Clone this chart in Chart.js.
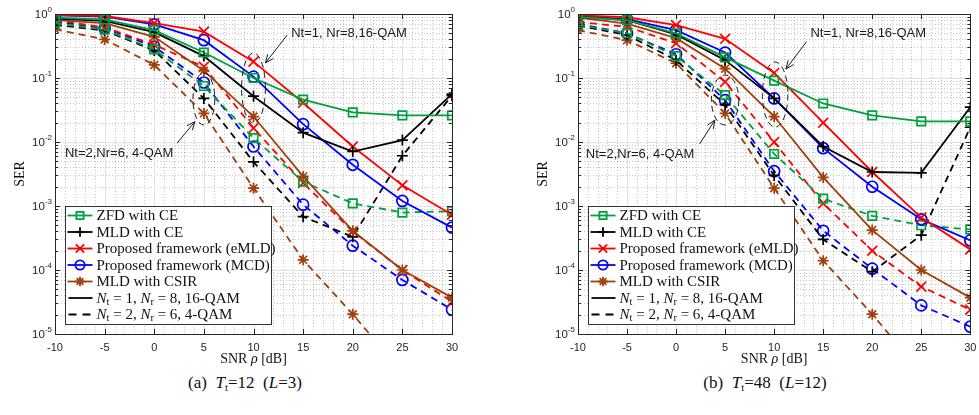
<!DOCTYPE html>
<html>
<head>
<meta charset="utf-8">
<script src="https://cdn.jsdelivr.net/npm/chart.js@4/dist/chart.umd.min.js"></script>
<style>
  body { margin: 0; background: #fff; width: 979px; height: 415px; overflow: hidden; position: relative; }
  canvas { position: absolute; top: 0; }
  #chartA { left: 0; }
  #chartB { left: 490px; }
  .cap { position: absolute; top: 373px; transform: translateX(-50%); white-space: nowrap;
         font-family: "Liberation Serif", serif; font-size: 17px; color: #111; }
  .cap sub { font-size: 11px; vertical-align: -3px; }
</style>
</head>
<body>
<canvas id="chartA" width="490" height="370"></canvas>
<canvas id="chartB" width="489" height="370"></canvas>
<div class="cap" style="left:245px">(a) &nbsp;<i>T</i><sub>t</sub>=12 &nbsp;(<i>L</i>=3)</div>
<div class="cap" style="left:765px">(b) &nbsp;<i>T</i><sub>t</sub>=48 &nbsp;(<i>L</i>=12)</div>
<script>
// SNR points and axis ticks
const snr = [-10, -5, 0, 5, 10, 15, 20, 25, 30];
const xTicks = [-10, -5, 0, 5, 10, 15, 20, 25, 30];
const yExps = [0, -1, -2, -3, -4, -5];
const methodNames = ['ZFD with CE', 'MLD with CE', 'Proposed framework (eMLD)', 'Proposed framework (MCD)', 'MLD with CSIR'];

// (a) Tt = 12, Nt=1 Nr=8 16-QAM
const zfd16A  = [0.88, 0.82, 0.56, 0.25, 0.10, 0.046, 0.029, 0.026, 0.026];
const mld16A  = [0.85, 0.78, 0.52, 0.22, 0.052, 0.014, 0.0071, 0.0107, 0.056];
const emld16A = [0.97, 0.93, 0.72, 0.53, 0.18, 0.041, 0.0085, 0.0021, 0.00073];
const mcd16A  = [0.95, 0.91, 0.69, 0.39, 0.105, 0.019, 0.0044, 0.0012, 0.00046];
const csir16A = [0.80, 0.72, 0.44, 0.13, 0.025, 0.0029, 0.00041, 0.0001, 0.000037];
// (a) Nt=2 Nr=6 4-QAM
const zfd4A  = [0.72, 0.57, 0.28, 0.075, 0.0115, 0.0024, 0.0011, 0.00079, 0.00083];
const mld4A  = [0.68, 0.55, 0.27, 0.048, 0.0049, 0.00068, 0.00033, 0.0061, 0.053];
const emld4A = [0.80, 0.62, 0.33, 0.15, 0.0165, 0.0023, 0.0004, 0.0001, 0.000032];
const mcd4A  = [0.76, 0.60, 0.31, 0.085, 0.0085, 0.00105, 0.00024, 0.00007, 0.000024];
const csir4A = [0.58, 0.40, 0.16, 0.028, 0.0019, 0.000144, 0.0000204, 0.0000025, 0.0000003];

// (b) Tt = 48
const zfd16B  = [0.90, 0.80, 0.50, 0.21, 0.091, 0.040, 0.026, 0.021, 0.021];
const mld16B  = [0.90, 0.80, 0.48, 0.19, 0.048, 0.0085, 0.0034, 0.0033, 0.035];
const emld16B = [0.95, 0.89, 0.67, 0.41, 0.12, 0.020, 0.0034, 0.00066, 0.00021];
const mcd16B  = [0.93, 0.83, 0.56, 0.25, 0.048, 0.008, 0.002, 0.00062, 0.00029];
const csir16B = [0.88, 0.71, 0.42, 0.14, 0.025, 0.0028, 0.00042, 0.0001, 0.000037];
const zfd4B  = [0.68, 0.50, 0.22, 0.054, 0.0065, 0.0013, 0.0007, 0.0005, 0.00043];
const mld4B  = [0.66, 0.47, 0.19, 0.038, 0.003, 0.0003, 0.000094, 0.00035, 0.017];
const emld4B = [0.75, 0.63, 0.35, 0.087, 0.010, 0.0011, 0.0002, 0.000055, 0.000024];
const mcd4B  = [0.70, 0.50, 0.235, 0.045, 0.0035, 0.00041, 0.000105, 0.000028, 0.000013];
const csir4B = [0.56, 0.39, 0.17, 0.028, 0.0019, 0.00014, 0.0000204, 0.0000025, 0.0000003];

// look of each method
const looks = [
  { color: '#00a03c', point: 'rect', r: 6 },
  { color: '#000000', point: 'cross', r: 5.5 },
  { color: '#ff0000', point: 'crossRot', r: 7 },
  { color: '#0000ff', point: 'circle', r: 5.5 },
  { color: '#a0400c', point: 'star', r: 5.5 }
];
const dash = [7, 5];

// annotation placement in data units
const notesA = {
  ellipses: [{ x: 10, dx: 1.2, top: 0.246, bottom: 0.0198 }, { x: 5, dx: 1.1, top: 0.12, bottom: 0.0184 }],
  labels: [{ text: 'Nt=1, Nr=8,16-QAM', x: 13.8, y: 0.505 }, { text: 'Nt=2,Nr=6, 4-QAM', x: -9.0, y: 0.0067 }],
  arrows: [{ x1: 13.4, y1: 0.47, x2: 11.2, y2: 0.172 }, { x1: 2.3, y1: 0.0096, x2: 4.1, y2: 0.0208 }]
};
const notesB = {
  ellipses: [{ x: 10.1, dx: 1.3, top: 0.178, bottom: 0.0171 }, { x: 5, dx: 1.4, top: 0.111, bottom: 0.0184 }],
  labels: [{ text: 'Nt=1, Nr=8,16-QAM', x: 13.7, y: 0.505 }, { text: 'Nt=2,Nr=6, 4-QAM', x: -9.2, y: 0.0065 }],
  arrows: [{ x1: 13.3, y1: 0.369, x2: 11.2, y2: 0.138 }, { x1: 2.4, y1: 0.0093, x2: 3.95, y2: 0.022 }]
};

const SERIF = '"Liberation Serif", serif';
const SANS = '"Liberation Sans", Arial, sans-serif';

function marker(ctx, kind, x, y, r) {
  const d = r * Math.SQRT1_2;
  ctx.beginPath();
  if (kind === 'rect') ctx.rect(x - d, y - d, 2 * d, 2 * d);
  else if (kind === 'circle') ctx.arc(x, y, r, 0, Math.PI * 2);
  else {
    if (kind === 'cross' || kind === 'star') {
      ctx.moveTo(x - r, y); ctx.lineTo(x + r, y);
      ctx.moveTo(x, y - r); ctx.lineTo(x, y + r);
    }
    if (kind === 'crossRot' || kind === 'star') {
      ctx.moveTo(x - d, y - d); ctx.lineTo(x + d, y + d);
      ctx.moveTo(x - d, y + d); ctx.lineTo(x + d, y - d);
    }
  }
  ctx.stroke();
}

// draw text made of pieces with different fonts
function runs(ctx, parts, x, y, align) {
  let w = 0;
  parts.forEach(p => { ctx.font = p.font; p.w = ctx.measureText(p.t).width; w += p.w; });
  let cx = align === 'center' ? x - w / 2 : align === 'right' ? x - w : x;
  ctx.textAlign = 'left';
  parts.forEach(p => { ctx.font = p.font; ctx.fillText(p.t, cx, y + (p.dy || 0)); cx += p.w; });
}

function drawGrid(chart) {
  const { ctx, chartArea: a, scales: { x, y } } = chart;
  ctx.save();
  ctx.lineWidth = 1;
  // minor dotted grid
  ctx.strokeStyle = 'rgba(0,0,0,0.22)';
  ctx.setLineDash([1, 2]);
  ctx.beginPath();
  for (let v = xTicks[0]; v <= xTicks[xTicks.length - 1]; v++) {
    if (xTicks.includes(v)) continue;
    const px = Math.round(x.getPixelForValue(v)) + 0.5;
    ctx.moveTo(px, a.top); ctx.lineTo(px, a.bottom);
  }
  for (let e = -5; e < 0; e++) {
    for (let m = 2; m <= 9; m++) {
      const py = Math.round(y.getPixelForValue(m * Math.pow(10, e))) + 0.5;
      ctx.moveTo(a.left, py); ctx.lineTo(a.right, py);
    }
  }
  ctx.stroke();
  // major grid
  ctx.setLineDash([]);
  ctx.strokeStyle = '#e2e2e2';
  ctx.beginPath();
  xTicks.forEach(v => {
    const px = Math.round(x.getPixelForValue(v)) + 0.5;
    ctx.moveTo(px, a.top); ctx.lineTo(px, a.bottom);
  });
  yExps.forEach(e => {
    const py = Math.round(y.getPixelForValue(Math.pow(10, e))) + 0.5;
    ctx.moveTo(a.left, py); ctx.lineTo(a.right, py);
  });
  ctx.stroke();
  ctx.restore();
}

function drawFrame(chart) {
  const { ctx, chartArea: a, scales: { x, y } } = chart;
  ctx.save();
  ctx.strokeStyle = '#262626';
  ctx.fillStyle = '#262626';
  ctx.lineWidth = 1;
  ctx.beginPath();
  // ticks
  xTicks.forEach(v => {
    const px = Math.round(x.getPixelForValue(v)) + 0.5;
    ctx.moveTo(px, a.bottom); ctx.lineTo(px, a.bottom - 5);
    ctx.moveTo(px, a.top); ctx.lineTo(px, a.top + 5);
  });
  yExps.forEach(e => {
    const py = Math.round(y.getPixelForValue(Math.pow(10, e))) + 0.5;
    ctx.moveTo(a.left, py); ctx.lineTo(a.left + 5, py);
    ctx.moveTo(a.right, py); ctx.lineTo(a.right - 5, py);
    if (e < 0) {
      for (let m = 2; m <= 9; m++) {
        const q = Math.round(y.getPixelForValue(m * Math.pow(10, e))) + 0.5;
        ctx.moveTo(a.left, q); ctx.lineTo(a.left + 3, q);
        ctx.moveTo(a.right, q); ctx.lineTo(a.right - 3, q);
      }
    }
  });
  ctx.stroke();
  ctx.strokeRect(Math.round(a.left) + 0.5, Math.round(a.top) + 0.5, Math.round(a.right - a.left), Math.round(a.bottom - a.top));

  // tick labels
  ctx.textBaseline = 'middle';
  ctx.textAlign = 'center';
  ctx.font = '11px ' + SANS;
  xTicks.forEach(v => ctx.fillText(String(v), x.getPixelForValue(v), a.bottom + 14));
  yExps.forEach(e => {
    runs(ctx, [{ t: '10', font: '11.5px ' + SANS }, { t: String(e), font: '8px ' + SANS, dy: -5 }],
      a.left - 3, y.getPixelForValue(Math.pow(10, e)) + 1, 'right');
  });

  // axis titles
  ctx.fillStyle = '#111';
  runs(ctx, [{ t: 'SNR ', font: '14px ' + SERIF }, { t: 'ρ', font: 'italic 14px ' + SERIF }, { t: ' [dB]', font: '14px ' + SERIF }],
    (a.left + a.right) / 2, a.bottom + 25, 'center');
  ctx.save();
  ctx.translate(a.left - 35, (a.top + a.bottom) / 2);
  ctx.rotate(-Math.PI / 2);
  ctx.textAlign = 'center';
  ctx.font = '14px ' + SERIF;
  ctx.fillText('SER', 0, 0);
  ctx.restore();
  ctx.restore();
}

function drawNotes(chart, notes) {
  const { ctx, scales: { x, y } } = chart;
  ctx.save();
  ctx.strokeStyle = '#1a1a1a';
  ctx.fillStyle = '#1a1a1a';
  ctx.lineWidth = 1;
  notes.ellipses.forEach(el => {
    const cx = x.getPixelForValue(el.x);
    const rx = x.getPixelForValue(el.x + el.dx) - cx;
    const t = y.getPixelForValue(el.top), b = y.getPixelForValue(el.bottom);
    ctx.setLineDash([6, 4]);
    ctx.beginPath();
    ctx.ellipse(cx, (t + b) / 2, rx, (b - t) / 2, 0, 0, Math.PI * 2);
    ctx.stroke();
  });
  ctx.setLineDash([]);
  notes.arrows.forEach(ar => {
    const x1 = x.getPixelForValue(ar.x1), y1 = y.getPixelForValue(ar.y1);
    const x2 = x.getPixelForValue(ar.x2), y2 = y.getPixelForValue(ar.y2);
    const ang = Math.atan2(y2 - y1, x2 - x1);
    ctx.beginPath();
    ctx.moveTo(x1, y1); ctx.lineTo(x2, y2);
    ctx.moveTo(x2 - 9 * Math.cos(ang - 0.4), y2 - 9 * Math.sin(ang - 0.4));
    ctx.lineTo(x2, y2);
    ctx.lineTo(x2 - 9 * Math.cos(ang + 0.4), y2 - 9 * Math.sin(ang + 0.4));
    ctx.stroke();
  });
  ctx.font = '13px ' + SANS;
  ctx.textAlign = 'left';
  ctx.textBaseline = 'middle';
  notes.labels.forEach(lb => ctx.fillText(lb.text, x.getPixelForValue(lb.x), y.getPixelForValue(lb.y)));
  ctx.restore();
}

function drawLegend(chart) {
  const { ctx, chartArea: a } = chart;
  const bx = Math.round(a.left) + 10.5, by = 206.5, bw = 206, bh = 118;
  const rowH = 16.5;
  ctx.save();
  ctx.fillStyle = '#fff';
  ctx.fillRect(bx, by, bw, bh);
  ctx.strokeStyle = '#333';
  ctx.lineWidth = 1;
  ctx.strokeRect(bx, by, bw, bh);
  ctx.textBaseline = 'middle';
  const rowY = i => by + 9 + i * rowH;
  methodNames.forEach((name, i) => {
    const lk = looks[i];
    const yy = rowY(i);
    ctx.strokeStyle = lk.color;
    ctx.lineWidth = 1.8;
    ctx.beginPath(); ctx.moveTo(bx + 2, yy); ctx.lineTo(bx + 27, yy); ctx.stroke();
    marker(ctx, lk.point, bx + 14.5, yy, lk.r * 0.85);
    ctx.fillStyle = '#111';
    ctx.font = '15px ' + SERIF;
    ctx.textAlign = 'left';
    ctx.fillText(name, bx + 31, yy + 1);
  });
  const cfg = [
    { dash: [], nt: '1', nr: '8', mod: '16-QAM' },
    { dash: [8, 6], nt: '2', nr: '6', mod: '4-QAM' }
  ];
  cfg.forEach((c, k) => {
    const yy = rowY(5 + k);
    ctx.strokeStyle = '#000';
    ctx.lineWidth = 1.8;
    ctx.setLineDash(c.dash);
    ctx.beginPath(); ctx.moveTo(bx + 3, yy); ctx.lineTo(bx + 27, yy); ctx.stroke();
    ctx.setLineDash([]);
    ctx.fillStyle = '#111';
    const it = 'italic 15px ' + SERIF, rm = '15px ' + SERIF, sb = '10.5px ' + SERIF;
    runs(ctx, [
      { t: 'N', font: it }, { t: 't', font: sb, dy: 3 }, { t: ' = ' + c.nt + ', ', font: rm },
      { t: 'N', font: it }, { t: 'r', font: sb, dy: 3 }, { t: ' = ' + c.nr + ', ' + c.mod, font: rm }
    ], bx + 31, yy + 1, 'left');
  });
  ctx.restore();
}

function buildDatasets(solid, dashed) {
  const out = [];
  [solid, dashed].forEach((group, g) => {
    group.forEach((vals, i) => {
      const lk = looks[i];
      out.push({
        label: methodNames[i] + (g ? ' (4-QAM)' : ' (16-QAM)'),
        data: vals.map((v, k) => ({ x: snr[k], y: v })),
        borderColor: lk.color,
        borderWidth: 1.8,
        borderDash: g ? dash : [],
        pointStyle: lk.point,
        pointRadius: lk.r,
        pointBorderColor: lk.color,
        pointBackgroundColor: 'rgba(0,0,0,0)',
        pointBorderWidth: 1.7,
        tension: 0,
        fill: false
      });
    });
  });
  return out;
}

function makeChart(id, solid, dashed, notes, padLeft, padRight) {
  return new Chart(document.getElementById(id), {
    type: 'line',
    data: { datasets: buildDatasets(solid, dashed) },
    options: {
      responsive: false,
      animation: false,
      layout: { padding: { left: padLeft, right: padRight, top: 14, bottom: 36 } },
      plugins: { legend: { display: false }, tooltip: { enabled: false } },
      scales: {
        x: { type: 'linear', min: -10, max: 30, display: false },
        y: { type: 'logarithmic', min: 1e-5, max: 1, display: false }
      }
    },
    plugins: [{
      id: 'matlabLook',
      beforeDatasetsDraw(chart) { drawGrid(chart); },
      afterDatasetsDraw(chart) { drawFrame(chart); },
      afterDraw(chart) { drawNotes(chart, notes); drawLegend(chart); }
    }]
  });
}

makeChart('chartA', [zfd16A, mld16A, emld16A, mcd16A, csir16A], [zfd4A, mld4A, emld4A, mcd4A, csir4A], notesA, 55, 38);
makeChart('chartB', [zfd16B, mld16B, emld16B, mcd16B, csir16B], [zfd4B, mld4B, emld4B, mcd4B, csir4B], notesB, 88, 2);
</script>
</body>
</html>
